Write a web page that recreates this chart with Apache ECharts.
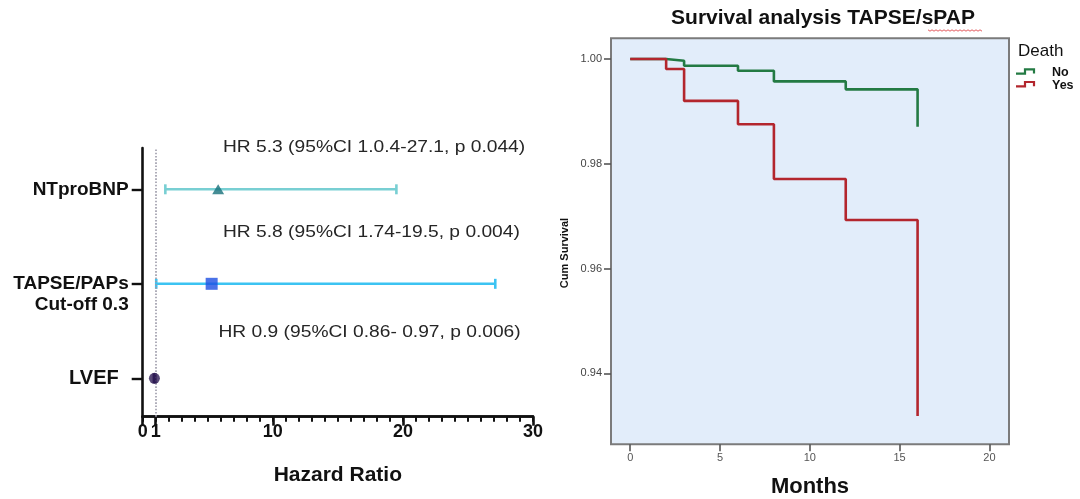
<!DOCTYPE html>
<html>
<head>
<meta charset="utf-8">
<script src="https://cdn.jsdelivr.net/npm/echarts@6/dist/echarts.min.js"></script>
<style>html,body{margin:0;padding:0;background:#fff}#c{width:1080px;height:499px}</style>
</head>
<body>
<div id="c"></div>
<script>
// ---------- Forest plot data ----------
const rowNames = ['LVEF', 'TAPSE/PAPs\nCut-off 0.3', 'NTproBNP'];
const hazardRatio = [0.9, 5.3, 5.8];
const ciLower = [0.86, 1.04, 1.74];
const ciUpper = [0.97, 27.1, 19.5];
const hrAnnotations = [
  'HR 5.3 (95%CI 1.0.4-27.1, p 0.044)',
  'HR 5.8 (95%CI 1.74-19.5, p 0.004)',
  'HR 0.9 (95%CI 0.86- 0.97, p 0.006)'
];
const hrTicks = [0, 1, 10, 20, 30];

// ---------- Kaplan-Meier data ----------
const kmMonths = [0, 2, 3, 6, 8, 12, 16];
const survivalNo = [1.0, 0.99967, 0.99872, 0.99776, 0.99572, 0.99421, 0.98708];
const survivalYes = [1.0, 0.99808, 0.99200, 0.98753, 0.97709, 0.96927, 0.93185];
const monthTicks = [0, 5, 10, 15, 20];
const survTicks = [0.94, 0.96, 0.98, 1.00];

// ---------- styles ----------
const FONT = 'Arial, "Liberation Sans", sans-serif';
const barColors = ['#2e1b55', '#3cc3f2', '#78cfd3'];
const markColors = ['#2e1b55', '#1d4fe2', '#17707a'];
const markSymbols = ['circle', 'rect', 'triangle'];
const markSizes = [11, 12, [12, 10]];
const annPos = [[223, 147.5], [223, 232], [218.5, 332.5]];
const GREEN = '#237a43', RED = '#b3262d';

const minorTicks = [];
for (let i = 0; i <= 30; i++) minorTicks.push(i);

const chart = echarts.init(document.getElementById('c'), null, {renderer: 'canvas'});

const errData = rowNames.map((n, i) => ({value: [i, ciLower[i], ciUpper[i]]}));
const pointData = rowNames.map((n, i) => ({
  value: [hazardRatio[i], i],
  symbol: markSymbols[i],
  symbolSize: markSizes[i],
  itemStyle: {color: markColors[i]}
}));

const graphics = hrAnnotations.map((t, i) => ({
  type: 'text', x: annPos[i][0], y: annPos[i][1], scaleX: 1.13, scaleY: 1,
  style: {text: t, x: 0, y: 0, fill: '#262626', font: '17px ' + FONT, textVerticalAlign: 'middle', verticalAlign: 'middle'}
}));
graphics.push({
  type: 'text', x: 823, y: 18.5,
  style: {text: 'Survival analysis TAPSE/sPAP', x: 0, y: 0, fill: '#111', font: 'bold 21px ' + FONT, textAlign: 'center', align: 'center', textVerticalAlign: 'middle', verticalAlign: 'middle'}
});
// spell-check wavy underline
const wave = [];
for (let x = 928, k = 0; x <= 982; x += 2, k++) wave.push([x, 30 + (k % 2 ? 1.2 : -0.2)]);
graphics.push({type: 'polyline', shape: {points: wave}, style: {stroke: '#e0474c', lineWidth: 0.9, fill: null}});
graphics.push({
  type: 'text', x: 565, y: 253, rotation: Math.PI / 2,
  style: {text: 'Cum Survival', x: 0, y: 0, fill: '#111', font: 'bold 11px ' + FONT, textAlign: 'center', align: 'center', textVerticalAlign: 'middle', verticalAlign: 'middle'}
});
graphics.push({
  type: 'text', x: 1018, y: 51.5,
  style: {text: 'Death', x: 0, y: 0, fill: '#111', font: '17px ' + FONT, textVerticalAlign: 'middle', verticalAlign: 'middle'}
});
// legend step icons
[[GREEN, 71.5], [RED, 84.2]].forEach(([c, yc]) => {
  graphics.push({
    type: 'polyline',
    shape: {points: [[1016, yc + 2.2], [1025, yc + 2.2], [1025, yc - 2.2], [1034, yc - 2.2], [1034, yc + 2]]},
    style: {stroke: c, lineWidth: 2.2, fill: null}
  });
});

const option = {
  animation: false,
  backgroundColor: '#ffffff',
  textStyle: {fontFamily: FONT},
  graphic: graphics,
  legend: {
    data: ['No', 'Yes'],
    orient: 'vertical', left: 1016, top: 61,
    itemWidth: 18, itemHeight: 7, itemGap: 0,
    itemStyle: {opacity: 0}, lineStyle: {opacity: 0},
    textStyle: {fontSize: 12.5, fontWeight: 'bold', color: '#111', fontFamily: FONT, lineHeight: 12.7, padding: [0, 0, 0, 7]},
    selectedMode: false
  },
  grid: [
    {left: 142.7, right: 547, top: 148, bottom: 82.3, outerBoundsMode: 'none'},
    {left: 611, right: 71, top: 38.3, bottom: 54.7, show: true, backgroundColor: '#e2edfa', borderColor: '#7b7b7b', borderWidth: 2, outerBoundsMode: 'none'}
  ],
  xAxis: [
    {
      gridIndex: 0, type: 'value', min: 0, max: 30, position: 'bottom',
      axisLine: {show: true, onZero: false, lineStyle: {color: '#111', width: 2.6}},
      axisTick: {show: true, customValues: minorTicks, length: 5, lineStyle: {color: '#111', width: 2}},
      axisLabel: {show: false}, splitLine: {show: false}
    },
    {
      gridIndex: 0, type: 'value', min: 0, max: 30, position: 'bottom',
      axisLine: {show: true, onZero: false, lineStyle: {color: '#111', width: 2.6}},
      axisTick: {show: true, customValues: hrTicks, length: 9, lineStyle: {color: '#111', width: 2.6}},
      axisLabel: {show: true, customValues: hrTicks, fontSize: 18, fontWeight: 'bold', color: '#111', margin: 6, fontFamily: FONT},
      splitLine: {show: false},
      name: 'Hazard Ratio', nameLocation: 'middle', nameGap: 48,
      nameTextStyle: {fontSize: 21, fontWeight: 'bold', color: '#111', fontFamily: FONT}
    },
    {
      gridIndex: 1, type: 'value', min: -1.07, max: 21.09, position: 'bottom',
      axisLine: {show: false, onZero: false},
      axisTick: {show: true, customValues: monthTicks, length: 7, lineStyle: {color: '#555', width: 1.6}},
      axisLabel: {show: true, customValues: monthTicks, fontSize: 11, color: '#555', margin: 8, fontFamily: FONT},
      splitLine: {show: false},
      name: 'Months', nameLocation: 'middle', nameGap: 32,
      nameTextStyle: {fontSize: 22, fontWeight: 'bold', color: '#111', fontFamily: FONT}
    }
  ],
  yAxis: [
    {
      gridIndex: 0, type: 'value', min: -0.406, max: 2.437, position: 'left',
      axisLine: {show: true, onZero: false, lineStyle: {color: '#111', width: 2.6}},
      axisTick: {show: true, customValues: [0, 1, 2], length: 11, lineStyle: {color: '#111', width: 2.4}},
      axisLabel: {
        show: true, customValues: [0, 1, 2], margin: 14, align: 'right',
        formatter: function (v) {
          const i = Math.round(v);
          const name = rowNames[i];
          if (i === 0) return '{big|' + name + '}';
          if (name.indexOf('\n') >= 0) return '{b| }\n' + name.split('\n').map(s => '{b|' + s + '}').join('\n');
          return '{b|' + name + '}';
        },
        rich: {
          b: {fontSize: 19, fontWeight: 'bold', color: '#111', lineHeight: 21, fontFamily: FONT, align: 'right'},
          big: {fontSize: 20, fontWeight: 'bold', color: '#111', fontFamily: FONT, padding: [0, 10, 0, 0]}
        }
      },
      splitLine: {show: false}
    },
    {
      gridIndex: 1, type: 'value', min: 0.92645, max: 1.00395, position: 'left',
      axisLine: {show: false, onZero: false},
      axisTick: {show: true, customValues: survTicks, length: 7, lineStyle: {color: '#555', width: 1.6}},
      axisLabel: {show: true, customValues: survTicks, fontSize: 11, color: '#444', margin: 9, fontFamily: FONT,
        formatter: v => v.toFixed(2)},
      splitLine: {show: false}
    }
  ],
  series: [
    {
      type: 'custom', xAxisIndex: 0, yAxisIndex: 0, z: 2,
      encode: {x: [1, 2], y: 0},
      data: errData,
      markLine: {
        silent: true, symbol: ['none', 'none'], label: {show: false},
        lineStyle: {type: 'dotted', color: '#9c9aa8', width: 1.6},
        data: [{xAxis: 1}]
      },
      renderItem: function (params, api) {
        const y = api.value(0);
        const p1 = api.coord([api.value(1), y]);
        const p2 = api.coord([api.value(2), y]);
        const c = barColors[params.dataIndex];
        const st = {stroke: c, lineWidth: 2.6};
        return {
          type: 'group', children: [
            {type: 'line', shape: {x1: p1[0], y1: p1[1], x2: p2[0], y2: p2[1]}, style: st},
            {type: 'line', shape: {x1: p1[0], y1: p1[1] - 5, x2: p1[0], y2: p1[1] + 5}, style: st},
            {type: 'line', shape: {x1: p2[0], y1: p2[1] - 5, x2: p2[0], y2: p2[1] + 5}, style: st}
          ]
        };
      }
    },
    {
      type: 'scatter', xAxisIndex: 0, yAxisIndex: 0, z: 5,
      data: pointData
    },
    {
      name: 'No', type: 'line', xAxisIndex: 2, yAxisIndex: 1, step: 'end', showSymbol: false, symbol: 'none',
      data: kmMonths.map((m, i) => [m, survivalNo[i]]),
      lineStyle: {color: GREEN, width: 2.6}, itemStyle: {color: GREEN}
    },
    {
      name: 'Yes', type: 'line', xAxisIndex: 2, yAxisIndex: 1, step: 'end', showSymbol: false, symbol: 'none',
      data: kmMonths.map((m, i) => [m, survivalYes[i]]),
      lineStyle: {color: RED, width: 2.6}, itemStyle: {color: RED}
    }
  ]
};
chart.setOption(option);
</script>
</body>
</html>
